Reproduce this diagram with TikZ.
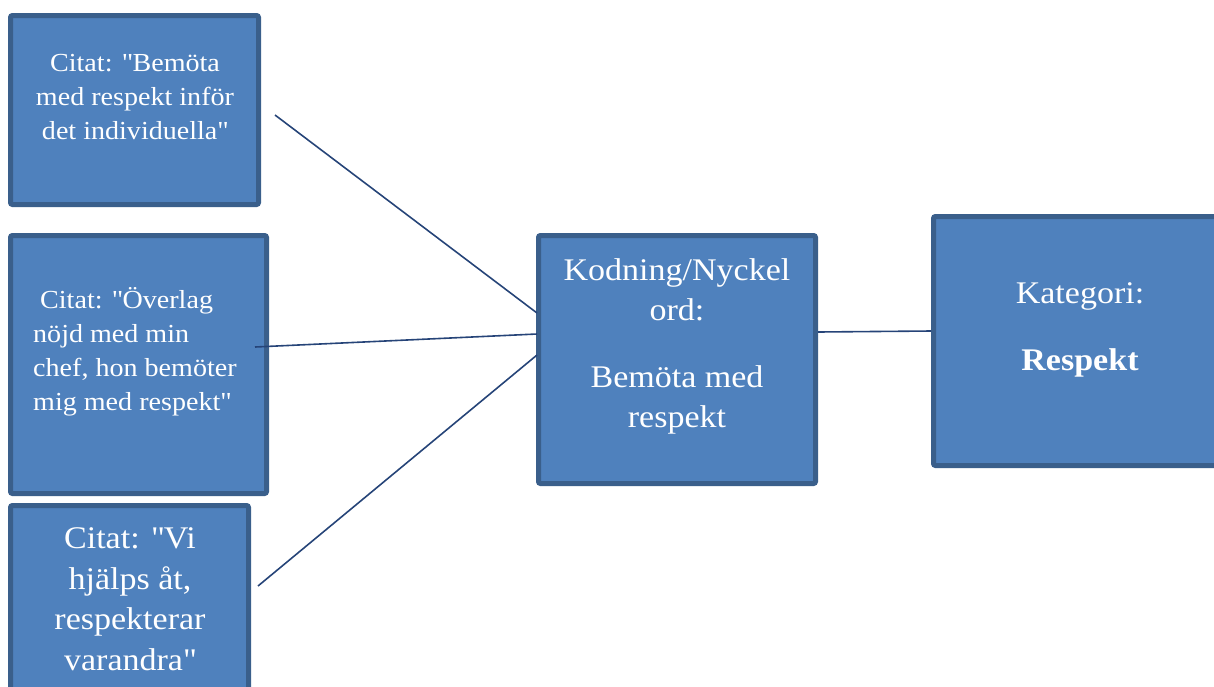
\documentclass[tikz,border=0pt]{standalone}
\usepackage{fontspec}
\setmainfont{Liberation Serif}[FakeStretch=1.08]
\newcommand{\dq}{\XeTeXglyph\XeTeXcharglyph"22\relax}
\definecolor{boxfill}{HTML}{4F81BD}
\definecolor{boxline}{HTML}{3A5F8B}
\definecolor{conn}{HTML}{264478}
\tikzset{
  qbox/.style={draw=boxline, fill=boxfill, line width=5pt, rounded corners=2pt},
  qtext/.style={text=white, inner sep=0pt, font=\fontsize{26}{34}\selectfont},
  btext/.style={text=white, inner sep=0pt, font=\fontsize{31.5}{40.5}\selectfont},
  conline/.style={draw=conn, line width=1.6pt}
}
\begin{document}
\begin{tikzpicture}[x=1pt,y=-1pt]
\useasboundingbox (0,0) rectangle (1214,686);
% boxes
\path[qbox] (10.5,15.5) rectangle (258.5,204.5);
\node[inner sep=0pt, minimum width=248pt, minimum height=189pt] (boxA) at (134.5,110) {};
\path[qbox] (10.5,235.5) rectangle (266.5,493.5);
\node[inner sep=0pt, minimum width=256pt, minimum height=258pt] (boxB) at (138.5,364.5) {};
\path[qbox] (10.5,505.5) rectangle (248.5,720);
\node[inner sep=0pt, minimum width=238pt, minimum height=214pt] (boxC) at (129.5,612.75) {};
\path[qbox] (538.5,235.5) rectangle (815.5,483.5);
\node[inner sep=0pt, minimum width=277pt, minimum height=248pt] (boxK) at (677,359.5) {};
\path[qbox] (933.5,216.5) rectangle (1240,465.5);
\node[inner sep=0pt, minimum width=306pt, minimum height=249pt] (boxR) at (1086.75,341) {};
% texts
\node[qtext, align=center] (tA) at (135,97) {Citat: \dq Bemöta\\med respekt inför\\det individuella\dq};
\node[qtext, align=left, anchor=west] (tB) at (33,352) {\hspace*{7pt}Citat: \dq Överlag\\nöjd med min\\chef, hon bemöter\\mig med respekt\dq};
\node[btext, align=center] (tC) at (130,599) {Citat: \dq Vi\\hjälps åt,\\respekterar\\varandra\dq};
\node[btext, align=center] (tK) at (677,346.5) {Kodning/Nyckel\\ord:\\[26pt]Bemöta med\\respekt};
\node[btext, align=center] (tR) at (1080,330) {Kategori:\\[26pt]\textbf{Respekt}};
% connector endpoints
\coordinate (sA) at (275,115);
\coordinate (sB) at (255,347);
\coordinate (sC) at (258,586);
\coordinate (eA) at (537,313);
\coordinate (eB) at (537,334);
\coordinate (eC) at (537,355);
\coordinate (sK) at (818,332);
\coordinate (eR) at (931,331);
\draw[conline] (sA) -- (eA);
\draw[conline] (sB) -- (eB);
\draw[conline] (sC) -- (eC);
\draw[conline] (sK) -- (eR);
\end{tikzpicture}
\end{document}
